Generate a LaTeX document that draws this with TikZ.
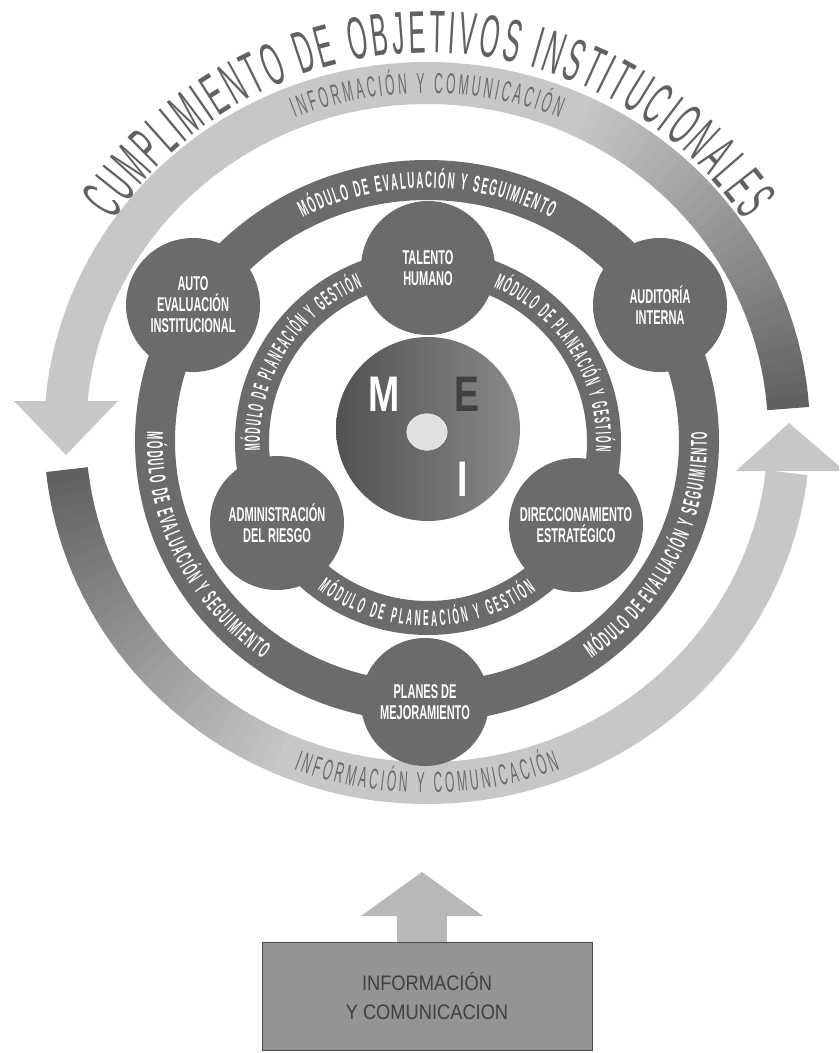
\documentclass[tikz,border=0pt]{standalone}
\usepackage{fontspec}
\setmainfont{Liberation Sans}
\newfontfamily\titlefont[FakeStretch=0.42]{Liberation Sans}
\newfontfamily\bandfont[FakeStretch=0.42]{Liberation Sans}
\newfontfamily\innerfont[FakeStretch=0.38]{Liberation Sans}
\newfontfamily\nodefont[FakeStretch=0.55]{Liberation Sans}
\newfontfamily\discfont[FakeStretch=0.75]{Liberation Sans}
\newfontfamily\boxfont[FakeStretch=0.87]{Liberation Sans}
\usetikzlibrary{decorations.text,shapes.geometric,arrows.meta}
\definecolor{dk}{gray}{0.42}
\newcommand\evfmt{\bandfont\bfseries\fontsize{23}{23}\selectfont}
\newcommand\infmt{\innerfont\bfseries\fontsize{22}{22}\selectfont}
\newcommand\icfmt{\bandfont\fontsize{29}{29}\selectfont}
\newcommand\ttlfmt{\titlefont\fontsize{60}{60}\selectfont}
\begin{document}
\begin{tikzpicture}[x=1pt,y=1pt,
  nd/.style={circle, fill=dk, text=white, align=center, inner sep=0pt,
    minimum size=#1, font=\nodefont\bfseries\fontsize{20}{21}\selectfont},
  nd/.default=134pt,
  evtxt/.style={decorate, decoration={text along path, text align={fit to path},
    text color=white, raise=-8pt, text={|\evfmt|#1}}},
  intxt/.style={decorate, decoration={text along path, text align={fit to path},
    text color=white, raise=-8pt, text={|\infmt|#1}}},
  ictxt/.style={decorate, decoration={text along path, text align={fit to path},
    text color=black!58, raise=-10pt, text={|\icfmt|#1}}},
  ttl/.style={decorate, decoration={text along path, text align={fit to path},
    text color=black!62, text={|\ttlfmt|#1}}},
  headshape/.style={fill=black!22},
]
\useasboundingbox (0,0) rectangle (839,-1053);
\fill[white] (0,0) rectangle (839,-1053);

% ---- outer information band (two circular arrows) ----
\foreach \a in {4,6,...,174} {
  \pgfmathsetmacro\c{22+40*max(0,1-(\a-4)/60)}
  \pgfmathsetmacro\e{min(\a+2.3,175.2)}
  \draw[line width=42pt, draw=black!\c] (427,-433) ++(\a:362 and 350)
    arc[start angle=\a, end angle=\e, x radius=362, y radius=350];
}
\foreach \a in {186,188,...,352} {
  \pgfmathsetmacro\c{22+40*max(0,1-(\a-186)/60)}
  \pgfmathsetmacro\e{min(\a+2.3,353.5)}
  \draw[line width=42pt, draw=black!\c] (427,-433) ++(\a:362 and 350)
    arc[start angle=\a, end angle=\e, x radius=362, y radius=350];
}
\fill[headshape] (14,-401) -- (118,-401) -- (66,-455) -- cycle;
\fill[headshape] (736,-471) -- (839,-471) -- (839,-466) -- (789,-423) -- cycle;

\path[ictxt={INFORMACIÓN Y COMUNICACIÓN}] (427,-433) ++(112:362 and 350)
  arc[start angle=112, end angle=68, x radius=362, y radius=350];
\path[ictxt={INFORMACIÓN Y COMUNICACIÓN}] (427,-433) ++(249:362 and 350)
  arc[start angle=249, end angle=291, x radius=362, y radius=350];

% ---- title ----
\path[ttl={CUMPLIMIENTO DE OBJETIVOS INSTITUCIONALES}] (429,-433) ++(146:380)
  arc[start angle=146, end angle=34, radius=380];

% ---- evaluation ring ----
\draw[line width=40pt, dk] (427,-441) ellipse[x radius=272, y radius=261];
\path[evtxt={MÓDULO DE EVALUACIÓN Y SEGUIMIENTO}] (427,-441) ++(118:272 and 261)
  arc[start angle=118, end angle=62, x radius=272, y radius=261];
\path[evtxt={MÓDULO DE EVALUACIÓN Y SEGUIMIENTO}] (427,-441) ++(178:272 and 261)
  arc[start angle=178, end angle=234, x radius=272, y radius=261];
\path[evtxt={MÓDULO DE EVALUACIÓN Y SEGUIMIENTO}] (427,-441) ++(-54:272 and 261)
  arc[start angle=-54, end angle=2, x radius=272, y radius=261];

% ---- planning ring ----
\draw[line width=34pt, dk] (428,-442) circle[radius=176];
\path[intxt={MÓDULO DE PLANEACIÓN Y GESTIÓN}] (428,-442) ++(183:176)
  arc[start angle=183, end angle=113, radius=176];
\path[intxt={MÓDULO DE PLANEACIÓN Y GESTIÓN}] (428,-442) ++(67:176)
  arc[start angle=67, end angle=-3, radius=176];
\path[intxt={MÓDULO DE PLANEACIÓN Y GESTIÓN}] (428,-442) ++(233:176)
  arc[start angle=233, end angle=306, radius=176];

% ---- nodes ----
\node[nd] (auto) at (193,-305) {AUTO\\EVALUACIÓN\\INSTITUCIONAL};
\node[nd] (audit) at (660,-305) {AUDITORÍA\\INTERNA};
\node[nd] (talento) at (428,-268) {TALENTO\\HUMANO};
\node[nd] (admin) at (277,-523) {ADMINISTRACIÓN\\DEL RIESGO};
\node[nd] (direc) at (576,-525) {DIRECCIONAMIENTO\\ESTRATÉGICO};
\node[nd=128pt] (planes) at (425,-702) {PLANES DE\\MEJORAMIENTO};

% ---- central MECI disc ----
\node[circle, inner sep=0pt, minimum size=184pt, left color=black!68, right color=black!46] (meci) at (428,-429) {};
\node[text=white, font=\discfont\bfseries\fontsize{50}{50}\selectfont] (m) at (384,-394) {M};
\node[text=black!75, font=\discfont\bfseries\fontsize{50}{50}\selectfont] (e) at (467,-394) {E};
\node[ellipse, fill=black!12, draw=black!70, inner sep=0pt, minimum width=42pt, minimum height=38pt] (o) at (427,-432) {};
\node[text=white, font=\discfont\bfseries\fontsize{50}{50}\selectfont] (i) at (463,-479) {I};

% ---- bottom box and arrow ----
\node[draw=black!70, fill=black!42, minimum width=330pt, minimum height=108pt, align=center,
  text=black!75, font=\boxfont\fontsize{21}{29}\selectfont] (box) at (427,-996)
  {INFORMACIÓN\\Y COMUNICACION};
\coordinate (tip) at (422,-872);
\draw[line width=50pt, black!28, -{Triangle[length=44pt, width=120pt]}] (box.north -| tip) -- (tip);
\end{tikzpicture}
\end{document}
